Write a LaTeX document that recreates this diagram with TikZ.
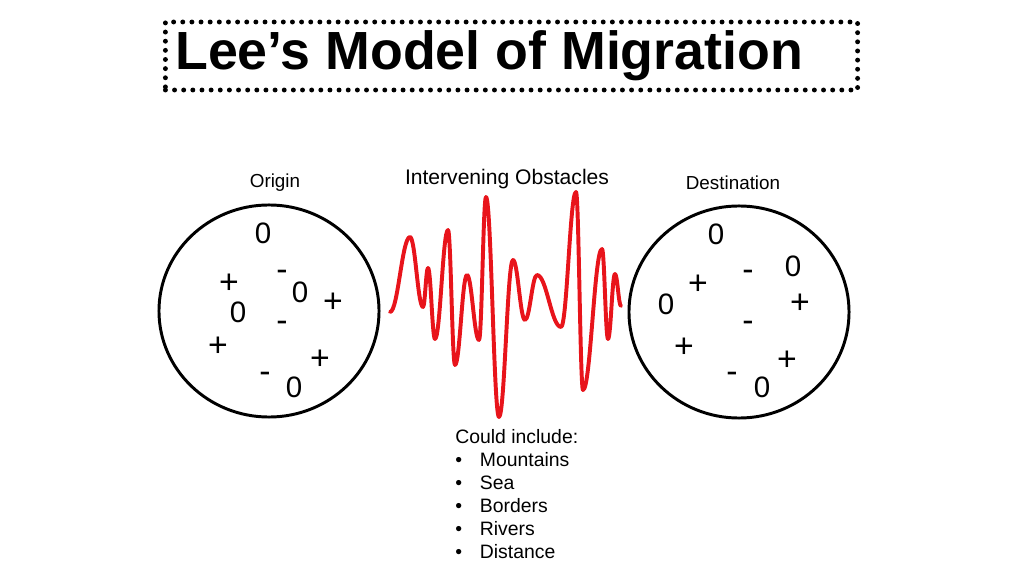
\documentclass[tikz,border=0pt]{standalone}
\usepackage{fontspec}
\setmainfont{Liberation Sans}
\usetikzlibrary{positioning, shapes.geometric, calc}
\definecolor{wavered}{HTML}{E8141B}

\begin{document}
\begin{tikzpicture}[
    x=0.025cm, y=-0.025cm,
    titlebox/.style={rectangle, draw=black, line width=3.5pt, line cap=round, dash pattern=on 0pt off 6.5pt, minimum width=17.3cm, minimum height=1.7cm},
    heading/.style={font=\fontsize{38.2}{44}\selectfont\bfseries, inner sep=0pt},
    lbl/.style={font=\fontsize{13.4}{16}\selectfont, inner sep=0pt},
    region/.style={ellipse, draw=black, line width=2.1pt, minimum width=5.5cm, minimum height=5.3cm},
    sym/.style={font=\fontsize{21}{24}\selectfont, inner sep=0pt},
    sign/.style={font=\fontsize{24}{27}\selectfont, inner sep=0pt, text height=16.8pt, text depth=0pt},
    wave/.style={draw=wavered, line width=2.8pt, line cap=round, line join=round},
    listtext/.style={font=\fontsize{13.8}{16.4}\selectfont, align=left, inner sep=0pt}
  ]
  \useasboundingbox (0,0) rectangle (1024,576);

  % title
  \node[titlebox] (box) at (511.5,56) {};
  \node[heading, anchor=base west] (title) at (175,70) {Lee’s Model of Migration};

  % origin and destination
  \node[region] (origin) at (269,311) {};
  \node[region] (dest) at (739,312) {};
  \node[lbl] (originlbl) at (275,183) {Origin};
  \node[lbl] (destlbl) at (733,183) {Destination};

  \foreach \st/\s/\sx/\sy [count=\i] in {sym/0/263/233, sign/-/282/269, sign/+/229/282, sym/0/238/312,
      sym/0/300/292, sign/+/333/301, sign/-/282/320, sign/+/218/345, sign/+/320/358, sign/-/265/371, sym/0/294/387}
    \node[\st] (o\i) at (\sx,\sy) {\s};
  \foreach \st/\s/\sx/\sy [count=\i] in {sym/0/716/234, sign/-/748/269, sym/0/793/266, sign/+/698/283,
      sign/+/800/302, sym/0/666/304, sign/-/748/320, sign/+/684/346, sign/+/787/359, sign/-/732/371, sym/0/762/387}
    \node[\st] (d\i) at (\sx,\sy) {\s};

  % intervening obstacles
  \node[lbl, font=\fontsize{15}{18}\selectfont] (obst) at (507,179) {Intervening Obstacles};
  \draw[wave] (390,312)
    \foreach \wx/\wy [remember=\wx as \px (initially 390), remember=\wy as \py (initially 312)] in
      {410/237, 423/307, 428/268, 435/339, 448/230, 455/365, 467/275, 479/340, 486/197, 499/417,
       513/260, 525/320, 537/275, 561/327, 576/192, 583/390, 602/249, 608/339, 615/274, 621/306}
    { .. controls ($(\px,\py)!0.4!(\wx,\py)$) and ($(\wx,\wy)!0.4!(\px,\wy)$) .. (\wx,\wy) };

  \node[listtext, anchor=north west] (list) at (455,429) {Could include:\\
    \makebox[17.5pt][l]{\textbullet}Mountains\\
    \makebox[17.5pt][l]{\textbullet}Sea\\
    \makebox[17.5pt][l]{\textbullet}Borders\\
    \makebox[17.5pt][l]{\textbullet}Rivers\\
    \makebox[17.5pt][l]{\textbullet}Distance};
\end{tikzpicture}
\end{document}
